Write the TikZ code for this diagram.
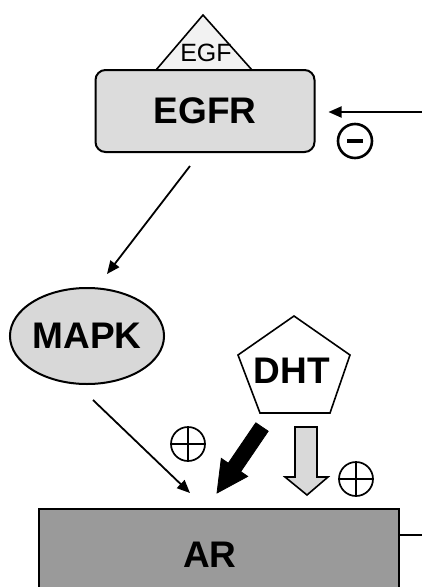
\documentclass[tikz,border=0pt]{standalone}
\usepackage{fontspec}
\setmainfont{Liberation Sans}
\usetikzlibrary{arrows.meta,calc,shapes.geometric}
\definecolor{egfrgray}{HTML}{DCDCDC}
\definecolor{mapkgray}{HTML}{D8D8D8}
\definecolor{argray}{HTML}{9A9A9A}
\definecolor{egfgray}{HTML}{F2F2F2}
\definecolor{arrowgray}{HTML}{D9D9D9}
\begin{document}
\begin{tikzpicture}[x=1pt,y=-1pt,
  big/.style={font=\fontsize{37}{37}\selectfont\bfseries, inner sep=0pt},
  conn/.style={line width=1.8pt, -{Triangle[length=13pt,width=11pt]}},
  plussign/.style={circle, draw, line width=1.7pt, minimum size=34pt, inner sep=0pt,
    path picture={\draw[line width=1.7pt]
      (path picture bounding box.north) -- (path picture bounding box.south)
      (path picture bounding box.west) -- (path picture bounding box.east);}},
  minussign/.style={circle, draw, line width=2.6pt, minimum size=34pt, inner sep=0pt,
    path picture={\draw[line width=4.5pt]
      ($(path picture bounding box.center)+(-8,0)$) -- ($(path picture bounding box.center)+(8,0)$);}}
]
\useasboundingbox (0,0) rectangle (422,587);
\clip (0,0) rectangle (422,587);

% EGF triangle
\draw[line width=1.6pt, fill=egfgray] (156,70) -- (203,15) -- (252,70) -- cycle;
\node[font=\fontsize{25}{25}\selectfont, inner sep=0pt] (egf) at (206,53) {EGF};

% EGFR
\node[draw, line width=2pt, rounded corners=10pt, fill=egfrgray,
      minimum width=219pt, minimum height=82pt, big] (egfr) at (205,111) {EGFR};

% inhibitor input
\coordinate (inhsrc) at (422,112);
\draw[conn, shorten >=13pt] (inhsrc) -- (inhsrc -| egfr.east);
\node[minussign] (minus) at (355,141) {};

% MAPK
\node[ellipse, draw, line width=2pt, fill=mapkgray,
      minimum width=154pt, minimum height=96pt, big] (mapk) at (87,336) {MAPK};

\coordinate (e1) at ($(egfr.south)+(-15,13)$);
\coordinate (m1) at ($(mapk.north)+(20,-13)$);
\draw[conn] (e1) -- (m1);

% DHT pentagon
\draw[line width=1.6pt, fill=white] (294,316) -- (350,355) -- (330,413) -- (260,413) -- (238,355) -- cycle;
\node[big] (dht) at (292,371) {DHT};

% AR
\node[draw, line width=2pt, fill=argray, minimum width=360pt, minimum height=100pt,
      inner sep=0pt, anchor=north west] (arbox) at (38,508) {};
\node[big] (ar) at (210,555) {AR};
\coordinate (arout) at (422,535);
\draw[line width=1.6pt] (arbox.east |- arout) -- (arout);

% MAPK -> AR
\coordinate (m2) at ($(mapk.south)+(6,15)$);
\coordinate (a1) at ($(arbox.north west)+(152,-15)$);
\draw[conn] (m2) -- (a1);

% black block arrow DHT -> AR
\draw[fill=black, line width=0.8pt, line join=miter]
  (255.8,422.8) -- (228.3,463.2) -- (221.3,458.4) -- (217,493) -- (247.7,476.4)
  -- (240.7,471.6) -- (268.2,431.2) -- cycle;

% gray hollow arrow DHT -> AR
\draw[fill=arrowgray, line width=1.6pt, line join=miter]
  (295,427) -- (317,427) -- (317,477) -- (328,477) -- (307,495) -- (285,477) -- (295,477) -- cycle;

\node[plussign] (plus1) at (188,444) {};
\node[plussign] (plus2) at (356,479) {};
\end{tikzpicture}
\end{document}
